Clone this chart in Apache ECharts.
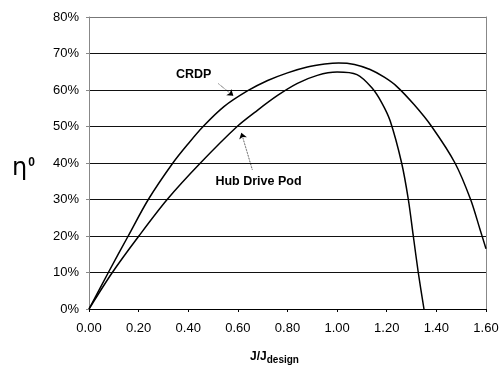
<!DOCTYPE html>
<html>
<head>
<meta charset="utf-8">
<script src="https://cdn.jsdelivr.net/npm/echarts@6/dist/echarts.min.js"></script>
<style>html,body{margin:0;padding:0;background:#fff}#c{width:499px;height:365px}</style>
</head>
<body>
<div id="c"></div>
<script>
// J/Jdesign and efficiency (%)
const crdpJ   = [0, 0.078, 0.158, 0.239, 0.338, 0.40, 0.46, 0.545, 0.64, 0.72, 0.80, 0.88, 0.95, 1.006, 1.07, 1.133, 1.19, 1.24, 1.31, 1.381, 1.475, 1.538, 1.575, 1.60];
const crdpEta = [0, 10, 20, 30, 40, 45.3, 50, 55.5, 59.8, 62.6, 64.7, 66.3, 67.1, 67.4, 67.0, 65.6, 63.5, 61, 56, 50, 40, 30, 22, 16.5];
const hubJ    = [0, 0.094, 0.201, 0.315, 0.449, 0.597, 0.68, 0.76, 0.84, 0.92, 1.0, 1.08, 1.14, 1.18, 1.214, 1.26, 1.287, 1.307, 1.327, 1.35];
const hubEta  = [0, 10, 20, 30, 40, 50, 54.5, 58.5, 61.8, 64.0, 64.9, 64.2, 60.6, 56.5, 51.5, 40, 30, 20, 10, 0];
const xTicks = ['0.00','0.20','0.40','0.60','0.80','1.00','1.20','1.40','1.60'];
const yTicks = ['0%','10%','20%','30%','40%','50%','60%','70%','80%'];

const font = 'Liberation Sans, Arial, sans-serif';
const chart = echarts.init(document.getElementById('c'));
const pair = (xs, ys) => xs.map((x, i) => [x, ys[i]]);

chart.setOption({
  animation: false,
  grid: {left: 89, right: 13, top: 17, bottom: 56, outerBoundsMode: 'none', containLabel: false},
  xAxis: {
    type: 'value', min: 0, max: 1.6, interval: 0.2,
    axisLine: {lineStyle: {color: '#000', width: 1}},
    axisTick: {show: true, length: 3, lineStyle: {color: '#000'}},
    axisLabel: {color: '#000', fontFamily: font, fontSize: 13, margin: 13,
      formatter: v => xTicks[Math.round(v / 0.2)]},
    splitLine: {show: false},
    name: '{a|J/J}{b|design}',
    nameLocation: 'middle', nameGap: 40,
    nameTextStyle: {padding: [0, 26, 0, 0],
      rich: {a: {fontFamily: font, fontSize: 12, fontWeight: 'bold', color: '#000'},
             b: {fontFamily: font, fontSize: 10, fontWeight: 'bold', color: '#000', padding: [6, 0, 0, 0]}}}
  },
  yAxis: [{
    type: 'value', min: 0, max: 80, interval: 10,
    axisLine: {show: true, lineStyle: {color: '#888', width: 1}},
    axisTick: {show: true, length: 3, lineStyle: {color: '#888'}},
    axisLabel: {color: '#000', fontFamily: font, fontSize: 13, margin: 10,
      formatter: v => yTicks[Math.round(v / 10)]},
    splitLine: {show: true, lineStyle: {color: ['#000','#111','#111','#111','#111','#111','#111','#111','#777'], width: 1}},
    name: '{a|η}{b|0}',
    nameLocation: 'middle', nameRotate: 0, nameGap: 54,
    nameTextStyle: {padding: [12, 0, 0, 0], rich: {
      a: {fontFamily: 'DejaVu Sans, sans-serif', fontSize: 24, color: '#000'},
      b: {fontFamily: font, fontSize: 12, fontWeight: 'bold', color: '#000', padding: [0, 0, 12, 1]}}}
  }, {
    type: 'value', min: 0, max: 80, interval: 10, position: 'right',
    axisLine: {show: true, lineStyle: {color: '#888', width: 1}},
    axisTick: {show: false}, axisLabel: {show: false}, splitLine: {show: false}
  }],
  series: [{
    name: 'CRDP', type: 'line', data: pair(crdpJ, crdpEta),
    smooth: 0.3, showSymbol: false,
    lineStyle: {color: '#000', width: 1.5},
    markPoint: {symbol: 'circle', symbolSize: 0,
      data: [{coord: [0.422, 64.2], value: 'CRDP'}],
      label: {show: true, position: 'inside', formatter: 'CRDP', fontFamily: font, fontSize: 12.5, fontWeight: 'bold', color: '#000'}},
    markLine: {silent: true, symbol: ['none', 'arrow'], symbolSize: 6,
      lineStyle: {color: '#000', width: 0.8, type: 'dotted'}, label: {show: false},
      data: [[{coord: [0.522, 61.7]}, {coord: [0.582, 58.4]}]]}
  }, {
    name: 'Hub Drive Pod', type: 'line', data: pair(hubJ, hubEta),
    smooth: 0.3, showSymbol: false,
    lineStyle: {color: '#000', width: 1.5},
    markPoint: {symbol: 'circle', symbolSize: 0,
      data: [{coord: [0.683, 34.9], value: 'Hub Drive Pod'}],
      label: {show: true, position: 'inside', formatter: 'Hub Drive Pod', fontFamily: font, fontSize: 12.5, fontWeight: 'bold', color: '#000'}},
    markLine: {silent: true, symbol: ['none', 'arrow'], symbolSize: 6,
      lineStyle: {color: '#000', width: 0.8, type: 'dotted'}, label: {show: false},
      data: [[{coord: [0.658, 38.2]}, {coord: [0.614, 48.3]}]]}
  }]
});
</script>
</body>
</html>
